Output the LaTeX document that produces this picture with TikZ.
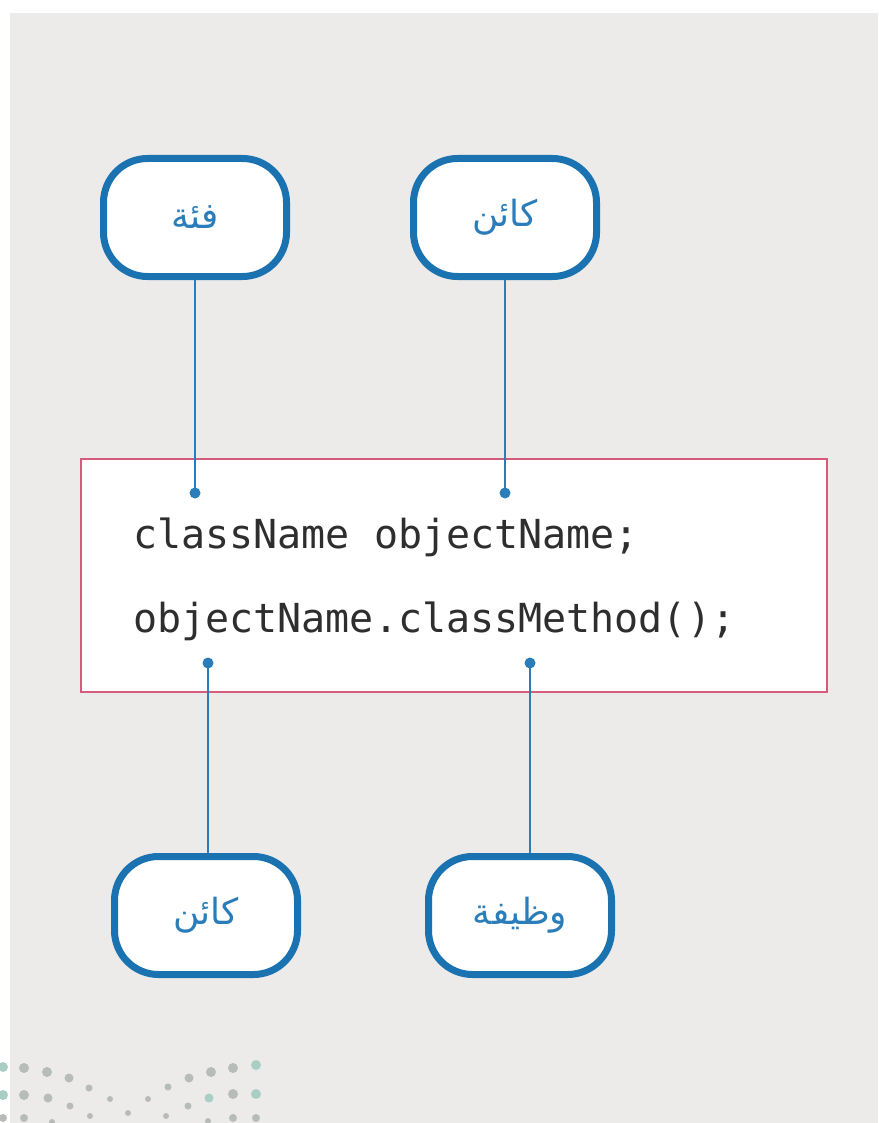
\documentclass[tikz,border=0pt]{standalone}
\usepackage{fontspec}
\newfontfamily\arabicfont[Script=Arabic]{DejaVu Sans}
\newfontfamily\codefont{DejaVu Sans Mono}
\TeXXeTstate=1
\definecolor{bg}{HTML}{EDEAEA}
\definecolor{bblue}{HTML}{1A72B0}
\definecolor{tblue}{HTML}{2A7DB8}
\definecolor{pinkb}{HTML}{D45C7C}
\definecolor{codeg}{HTML}{2E2E2E}
\definecolor{dotg}{HTML}{B7BCBA}
\definecolor{dott}{HTML}{A9CFC4}
\tikzset{
  label box/.style={draw=bblue, line width=7pt, fill=white, rounded corners=44pt,
    minimum width=183pt, minimum height=118pt, inner sep=0pt,
    font=\arabicfont\fontsize{36}{42}\selectfont, text=tblue},
  conn/.style={draw=tblue, line width=2.8pt},
  pin/.style={fill=tblue},
  code/.style={font=\codefont\fontsize{40}{46}\selectfont, text=codeg, inner sep=0pt, anchor=base west},
}
\begin{document}
\begin{tikzpicture}[x=1pt,y=-1pt]
\useasboundingbox (0,0) rectangle (878,1123);
\fill[white] (0,0) rectangle (878,1123);
\fill[bg] (10,13) rectangle (878,1123);
% decorative dots
\foreach \x/\y/\r/\c in {3/1067/5/dott,24/1068/5/dotg,47/1072/5/dotg,69/1078/4.5/dotg,89/1088/3.5/dotg,
  168/1087/3.5/dotg,189/1078/4.5/dotg,211/1072/5/dotg,233/1068/5/dotg,256/1065/5/dott,
  3/1095/5/dott,24/1095/5/dotg,48/1098/4.5/dotg,70/1106/3.5/dotg,110/1099/3/dotg,148/1099/3/dotg,
  188/1106/3.5/dotg,209/1098/4.5/dott,233/1094/5/dotg,256/1094/5/dott,
  3/1118/4/dotg,24/1118/4/dotg,52/1122/3/dotg,90/1116/3/dotg,128/1113/3/dotg,166/1116/3/dotg,208/1121/3/dotg,233/1118/4/dotg,256/1118/4/dotg}
  \fill[\c] (\x,\y) circle (\r);
% code box
\node[draw=pinkb, line width=2.2pt, fill=white, minimum width=746pt, minimum height=233pt, inner sep=0pt] (codebox) at (454,575.5) {};
\node[code] (l1) at (133,548) {className objectName;};
\node[code] (l2) at (133,632) {objectName.classMethod();};
% label boxes
\node[label box] (cls) at (195,217.5) {\beginR فئة\endR};
\node[label box] (obj1) at (505,217.5) {\beginR كائن\endR};
\node[label box] (obj2) at (206,915.5) {\beginR كائن\endR};
\node[label box] (meth) at (520,915.5) {\beginR وظيفة\endR};
% pins
\coordinate (p1) at (195,493);
\coordinate (p2) at (505,493);
\coordinate (p3) at (208,663);
\coordinate (p4) at (530,663);
\draw[conn] (cls.south) -- (p1);
\draw[conn] (obj1.south) -- (p2);
\draw[conn] (p3) -- (p3 |- obj2.north);
\draw[conn] (p4) -- (p4 |- meth.north);
\foreach \p in {p1,p2,p3,p4} \fill[pin] (\p) circle (5.5);
\end{tikzpicture}
\end{document}
